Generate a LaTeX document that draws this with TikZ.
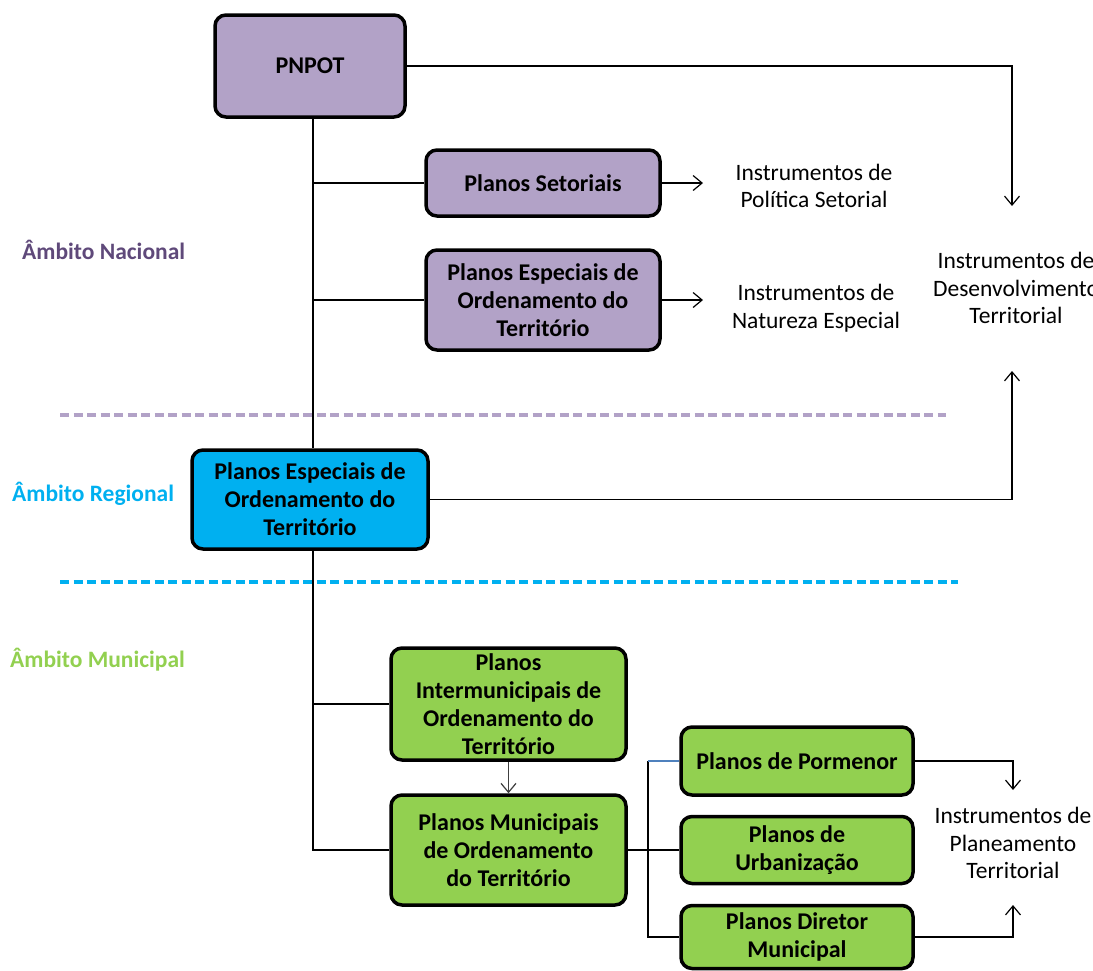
\documentclass[tikz,border=0pt]{standalone}
\usepackage{fontspec}
\setmainfont{Carlito}
\usetikzlibrary{arrows.meta}
\definecolor{pfill}{HTML}{B2A2C7}
\definecolor{cfill}{HTML}{00B0F0}
\definecolor{gfill}{HTML}{92D050}
\definecolor{ptext}{HTML}{5F497A}
\definecolor{bline}{HTML}{4F81BD}
\tikzset{
  box/.style={draw=black, line width=3.5pt, rounded corners=11pt, align=center, inner sep=0pt,
    font=\fontsize{24}{28}\selectfont\bfseries},
  pbox/.style={box, fill=pfill},
  cbox/.style={box, fill=cfill},
  gbox/.style={box, fill=gfill},
  conn/.style={line width=1.5pt, black},
  arr/.style={conn, -{Straight Barb[length=9pt,width=15pt,line width=1.2pt]}},
  itext/.style={align=center, font=\fontsize{23.5}{27.5}\selectfont, inner sep=0pt},
  lab/.style={font=\fontsize{23.5}{27}\selectfont\bfseries, anchor=west, inner sep=0pt},
  sep/.style={line width=3.4pt, dash pattern=on 9pt off 4.5pt}
}
\begin{document}
\begin{tikzpicture}[x=1pt,y=-1pt]
\useasboundingbox (0,0) rectangle (1093,970);
% boxes
\node[pbox, minimum width=190pt, minimum height=102pt] (pnpot) at (310,66) {PNPOT};
\node[pbox, minimum width=234pt, minimum height=66pt] (set) at (543,183) {Planos Setoriais};
\node[pbox, minimum width=234pt, minimum height=100pt] (espn) at (543,300) {Planos Especiais de\\Ordenamento do\\Território};
\node[cbox, minimum width=236pt, minimum height=99pt] (reg) at (310,499.5) {Planos Especiais de\\Ordenamento do\\Território};
\node[gbox, minimum width=235pt, minimum height=112pt] (inter) at (508.5,704) {Planos\\Intermunicipais de\\Ordenamento do\\Território};
\node[gbox, minimum width=235pt, minimum height=110pt] (mun) at (508.5,850) {Planos Municipais\\de Ordenamento\\do Território};
\node[gbox, minimum width=232pt, minimum height=68pt] (porm) at (797,761) {Planos de Pormenor};
\node[gbox, minimum width=232pt, minimum height=67pt] (urb) at (797,850) {Planos de\\Urbanização};
\node[gbox, minimum width=232pt, minimum height=63pt] (dir) at (797,937) {Planos Diretor\\Municipal};
% side labels
\node[lab, text=ptext] (ln) at (22,250) {Âmbito Nacional};
\node[lab, text=cfill] (lr) at (12,494) {Âmbito Regional};
\node[lab, text=gfill] (lm) at (10,660) {Âmbito Municipal};
% separators
\coordinate (s1a) at (60,415); \coordinate (s1b) at (946,415);
\coordinate (s2a) at (60,582); \coordinate (s2b) at (958,582);
\draw[sep, pfill] (s1a) -- (s1b);
\draw[sep, cfill] (s2a) -- (s2b);
% instrument texts
\node[itext] (polset) at (814,186) {Instrumentos de\\Política Setorial};
\node[itext] (natesp) at (816,308) {Instrumentos de\\Natureza Especial};
\node[itext] (dester) at (1016,288) {Instrumentos de\\Desenvolvimento\\Territorial};
\node[itext] (planter) at (1013,843) {Instrumentos de\\Planeamento\\Territorial};
% spine
\coordinate (sp) at (313,0);
\draw[conn] (pnpot.south -| sp) -- (reg.north -| sp);
\draw[conn] (reg.south -| sp) -- (sp |- mun.west) -- (mun.west);
\draw[conn] (sp |- set.west) -- (set.west);
\draw[conn] (sp |- espn.west) -- (espn.west);
\draw[conn] (sp |- inter.west) -- (inter.west);
% arrows to instruments
\coordinate (e1) at (703,183);
\coordinate (e2) at (703,300);
\draw[arr] (set.east) -- (e1);
\draw[arr] (espn.east) -- (e2);
\coordinate (a1) at (1012,206);
\coordinate (a2) at (1012,371);
\draw[arr] (pnpot.east) -| (a1);
\draw[arr] (reg.east) -| (a2);
% municipal
\draw[arr, black!75] (inter.south) -- (mun.north);
\coordinate (bx) at (648,0);
\draw[conn] (mun.east) -- (mun.east -| bx);
\draw[conn] (bx |- porm.west) -- (bx |- dir.west) -- (dir.west);
\draw[conn] (bx |- urb.west) -- (urb.west);
\draw[line width=1.3pt, bline] (bx |- porm.west) -- (porm.west);
\coordinate (a3) at (1013,790);
\coordinate (a4) at (1013,905);
\draw[arr] (porm.east) -| (a3);
\draw[arr] (dir.east) -| (a4);
\end{tikzpicture}
\end{document}
